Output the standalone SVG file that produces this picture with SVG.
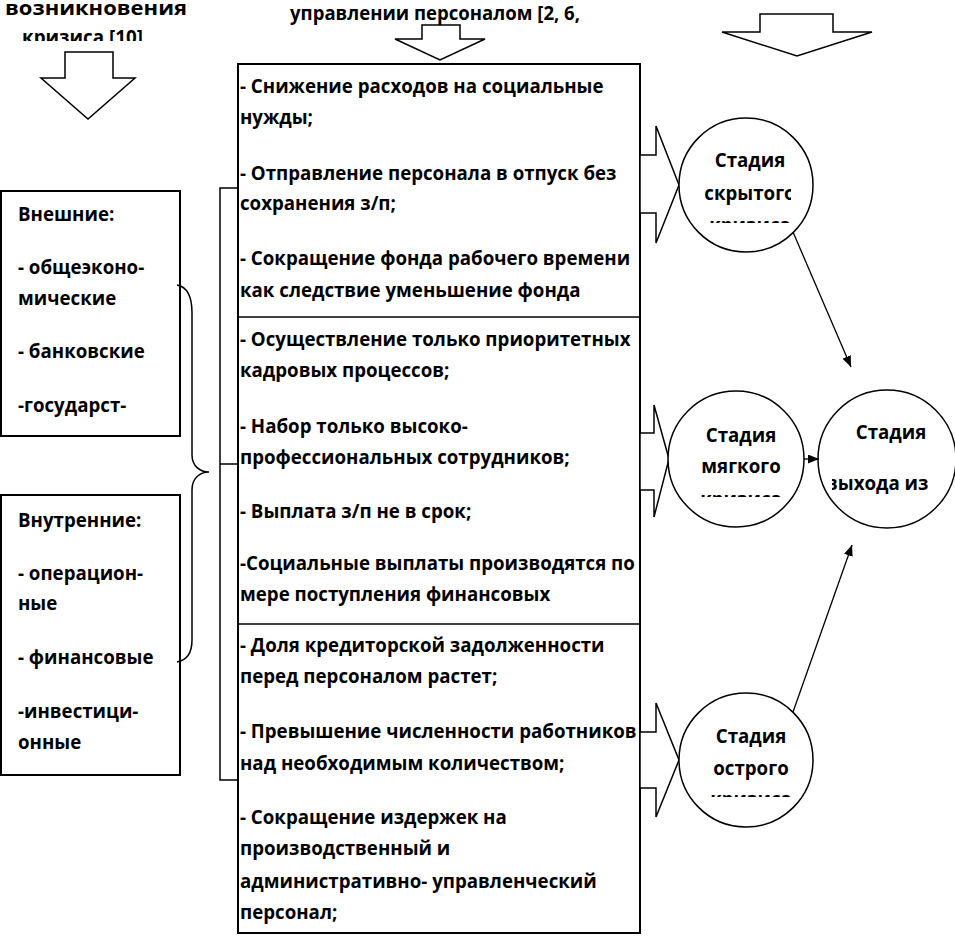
<svg xmlns="http://www.w3.org/2000/svg" width="955" height="937" viewBox="0 0 955 937">
<style>
.t{font-family:"Open Sans","Liberation Sans",sans-serif;font-weight:bold;font-size:18.7px;fill:#000}
.c{text-anchor:middle}
.box{fill:#fff;stroke:#000;stroke-width:2}
.blk{fill:#fff;stroke:#000;stroke-width:1.5;stroke-linejoin:miter}
.circ{fill:#fff;stroke:#000;stroke-width:1.5}
.ln{fill:none;stroke:#000;stroke-width:1.5}
.con{fill:none;stroke:#000;stroke-width:1.3;marker-end:url(#ah)}
</style>
<defs>
<marker id="ah" markerUnits="userSpaceOnUse" markerWidth="11" markerHeight="9" refX="11" refY="4.5" orient="auto"><path d="M0,0 L11,4.5 L0,9 z" fill="#000"/></marker>
<clipPath id="clTop1"><rect x="0" y="0" width="220" height="41"/></clipPath>
<clipPath id="clC1"><rect x="704" y="140" width="87" height="83"/></clipPath>
<clipPath id="clC2"><rect x="697" y="415" width="90" height="82"/></clipPath>
<clipPath id="clC3"><rect x="832" y="410" width="102" height="95"/></clipPath>
<clipPath id="clC4"><rect x="705" y="715" width="90" height="82"/></clipPath>
</defs>

<g id="title-left">
<text class="t" x="5" y="15" textLength="182" lengthAdjust="spacingAndGlyphs">возникновения</text>
<text class="t" x="22" y="44" textLength="121" lengthAdjust="spacingAndGlyphs" clip-path="url(#clTop1)">кризиса [10]</text>
</g>
<g id="title-mid">
<text class="t" x="290" y="20" textLength="290" lengthAdjust="spacingAndGlyphs">управлении персоналом [2, 6,</text>
</g>

<g id="arrow-down-left"><polygon class="blk" points="65,52 113,52 113,78 135,78 88,119 41,78 65,78"/></g>
<g id="arrow-down-mid"><polygon class="blk" points="422,25 460,25 460,39 485,39 440,60 395,39 422,39"/></g>
<g id="arrow-down-right"><polygon class="blk" points="760,14 833,14 833,32 872,32 797,56 722,32 760,32"/></g>

<g id="box-external">
<rect class="box" x="1" y="191" width="179" height="245"/>
<text class="t" x="18" y="221">Внешние:</text>
<text class="t" x="18" y="274">- общеэконо-</text>
<text class="t" x="18" y="305">мические</text>
<text class="t" x="18" y="358">- банковские</text>
<text class="t" x="18" y="412">-государст-</text>
</g>

<g id="box-internal">
<rect class="box" x="1" y="495" width="179" height="280"/>
<text class="t" x="18" y="527">Внутренние:</text>
<text class="t" x="18" y="580">- операцион-</text>
<text class="t" x="18" y="610">ные</text>
<text class="t" x="18" y="664">- финансовые</text>
<text class="t" x="18" y="718">-инвестици-</text>
<text class="t" x="18" y="749">онные</text>
</g>

<g id="main-box">
<rect class="box" x="238" y="64" width="402" height="869"/>
<line class="ln" x1="238" y1="317" x2="640" y2="317"/>
<line class="ln" x1="238" y1="624" x2="640" y2="624"/>
<text class="t" x="240" y="93">- Снижение расходов на социальные</text>
<text class="t" x="240" y="124">нужды;</text>
<text class="t" x="240" y="180">- Отправление персонала в отпуск без</text>
<text class="t" x="240" y="210">сохранения з/п;</text>
<text class="t" x="240" y="265">- Сокращение фонда рабочего времени</text>
<text class="t" x="240" y="297">как следствие уменьшение фонда</text>
<text class="t" x="240" y="346">- Осуществление только приоритетных</text>
<text class="t" x="240" y="377">кадровых процессов;</text>
<text class="t" x="240" y="433">- Набор только высоко-</text>
<text class="t" x="240" y="464">профессиональных сотрудников;</text>
<text class="t" x="240" y="518">- Выплата з/п не в срок;</text>
<text class="t" x="240" y="570">-Социальные выплаты производятся по</text>
<text class="t" x="240" y="601">мере поступления финансовых</text>
<text class="t" x="240" y="652">- Доля кредиторской задолженности</text>
<text class="t" x="240" y="683">перед персоналом растет;</text>
<text class="t" x="240" y="738">- Превышение численности работников</text>
<text class="t" x="240" y="770">над необходимым количеством;</text>
<text class="t" x="240" y="824">- Сокращение издержек на</text>
<text class="t" x="240" y="855">производственный и</text>
<text class="t" x="240" y="888">административно- управленческий</text>
<text class="t" x="240" y="919">персонал;</text>
</g>

<g id="brackets">
<path class="ln" d="M177,285 C188,287 192,298 192,313 L192,455 C192,466 200,472 209,472 C200,472 192,478 192,490 L192,640 C192,652 188,660 177,662"/>
<path class="ln" d="M238,188 H220 V780 H238 M220,464 H238"/>
</g>

<g id="arrow-right-1"><polygon class="blk" points="640,155 656,155 656,126 679,185 656,243 656,213 640,213"/></g>
<g id="arrow-right-2"><polygon class="blk" points="640,433 654,433 654,405 669,459 654,517 654,490 640,490"/></g>
<g id="arrow-right-3"><polygon class="blk" points="640,732 656,732 656,703 679,760 656,817 656,788 640,788"/></g>

<g id="stage-hidden">
<circle class="circ" cx="746" cy="185" r="67"/>
<g clip-path="url(#clC1)">
<text class="t c" x="750" y="167">Стадия</text>
<text class="t c" x="750" y="200">скрытого</text>
<text class="t c" x="750" y="232">кризиса</text>
</g>
</g>
<g id="stage-soft">
<circle class="circ" cx="736" cy="459" r="68"/>
<g clip-path="url(#clC2)">
<text class="t c" x="741" y="442">Стадия</text>
<text class="t c" x="741" y="473">мягкого</text>
<text class="t c" x="741" y="506">кризиса</text>
</g>
</g>
<g id="stage-exit">
<circle class="circ" cx="887" cy="459" r="69"/>
<g clip-path="url(#clC3)">
<text class="t c" x="891" y="439">Стадия</text>
<text class="t" x="826" y="490">выхода из кризиса</text>
</g>
</g>
<g id="stage-acute">
<circle class="circ" cx="746" cy="760" r="67"/>
<g clip-path="url(#clC4)">
<text class="t c" x="751" y="743">Стадия</text>
<text class="t c" x="751" y="775">острого</text>
<text class="t c" x="751" y="806">кризиса</text>
</g>
</g>

<g id="connectors">
<line class="con" x1="793" y1="232" x2="851" y2="367"/>
<line class="con" x1="793" y1="712" x2="852" y2="545"/>
<line class="con" x1="804" y1="459" x2="819" y2="459"/>
</g>
</svg>
